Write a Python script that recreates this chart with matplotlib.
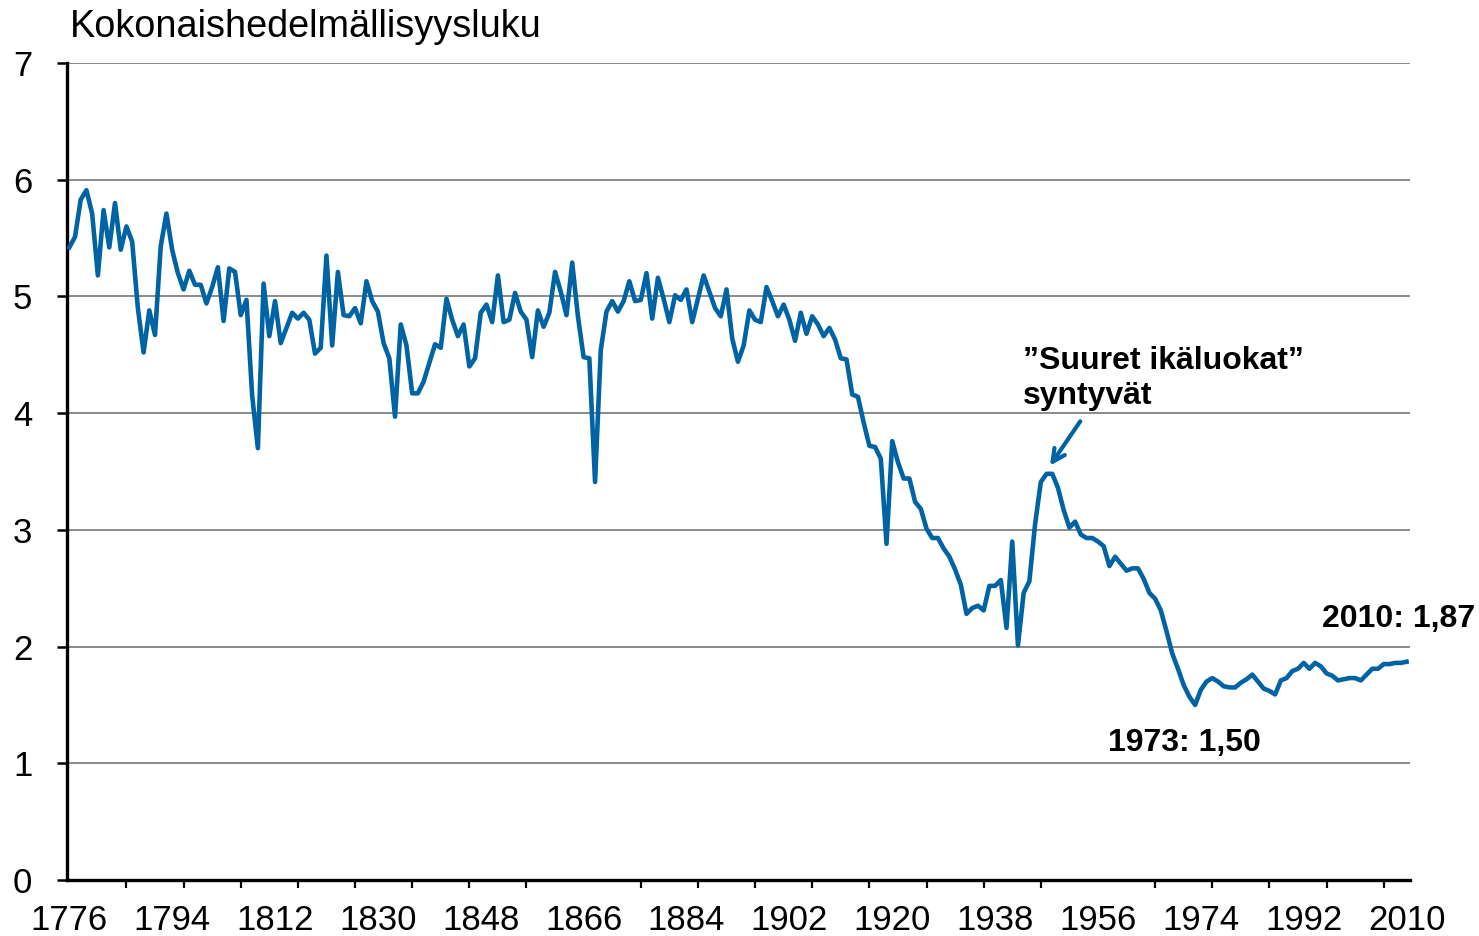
import numpy as np
import matplotlib
matplotlib.use("Agg")
import matplotlib.pyplot as plt
from matplotlib.ticker import FixedLocator

plt.rcParams['font.family'] = ['Liberation Sans', 'DejaVu Sans']

# Total fertility rate, Finland 1776-2010
tfr = [
    5.42, 5.51, 5.83, 5.91, 5.71, 5.18, 5.74, 5.42, 5.80, 5.40,  # 1776-
    5.60, 5.47, 4.90, 4.52, 4.88, 4.67, 5.43, 5.71, 5.40, 5.20,  # 1786-
    5.06, 5.22, 5.10, 5.10, 4.94, 5.08, 5.25, 4.79, 5.24, 5.21,  # 1796-
    4.84, 4.97, 4.15, 3.70, 5.11, 4.66, 4.96, 4.60, 4.73, 4.86,  # 1806-
    4.81, 4.86, 4.80, 4.51, 4.56, 5.35, 4.58, 5.21, 4.84, 4.83,  # 1816-
    4.90, 4.77, 5.13, 4.96, 4.87, 4.60, 4.47, 3.97, 4.76, 4.58,  # 1826-
    4.17, 4.17, 4.27, 4.43, 4.59, 4.56, 4.98, 4.80, 4.66, 4.76,  # 1836-
    4.40, 4.47, 4.86, 4.93, 4.78, 5.18, 4.78, 4.80, 5.03, 4.87,  # 1846-
    4.80, 4.48, 4.88, 4.74, 4.86, 5.21, 5.04, 4.84, 5.29, 4.83,  # 1856-
    4.48, 4.47, 3.41, 4.54, 4.87, 4.96, 4.87, 4.96, 5.13, 4.96,  # 1866-
    4.97, 5.20, 4.81, 5.16, 4.98, 4.78, 5.01, 4.97, 5.06, 4.78,  # 1876-
    4.98, 5.18, 5.04, 4.90, 4.83, 5.06, 4.64, 4.44, 4.58, 4.88,  # 1886-
    4.80, 4.78, 5.08, 4.96, 4.83, 4.93, 4.80, 4.62, 4.86, 4.68,  # 1896-
    4.83, 4.76, 4.66, 4.73, 4.63, 4.47, 4.46, 4.16, 4.14, 3.92,  # 1906-
    3.72, 3.71, 3.61, 2.88, 3.76, 3.58, 3.44, 3.44, 3.24, 3.18,  # 1916-
    3.01, 2.93, 2.93, 2.84, 2.77, 2.66, 2.53, 2.28, 2.33, 2.35,  # 1926-
    2.31, 2.52, 2.52, 2.57, 2.16, 2.90, 2.01, 2.46, 2.56, 3.05,  # 1936-
    3.41, 3.48, 3.48, 3.36, 3.17, 3.02, 3.07, 2.96, 2.93, 2.93,  # 1946-
    2.90, 2.86, 2.69, 2.77, 2.71, 2.65, 2.67, 2.67, 2.58, 2.46,  # 1956-
    2.41, 2.31, 2.13, 1.94, 1.81, 1.67, 1.57, 1.50, 1.63, 1.70,  # 1966-
    1.73, 1.70, 1.66, 1.65, 1.65, 1.69, 1.72, 1.76, 1.70, 1.64,  # 1976-
    1.62, 1.59, 1.71, 1.73, 1.79, 1.81, 1.86, 1.81, 1.86, 1.83,  # 1986-
    1.77, 1.75, 1.71, 1.72, 1.73, 1.73, 1.71, 1.76, 1.81, 1.81,  # 1996-
    1.85, 1.85, 1.86, 1.86, 1.87,                                # 2006-2010
]
start_year = 1776
years = np.arange(start_year, start_year + len(tfr))

label_years = list(range(1776, 2011, 18))
tick_years = list(range(1776, 2011, 10))
y_ticks = list(range(0, 8))

title = "Kokonaishedelmällisyysluku"
ann_boom = ["\u201dSuuret ikäluokat\u201d", "syntyvät"]
ann_min = "1973: 1,50"
ann_last = "2010: 1,87"

line_color = "#0063A3"

W, H = 1479, 936
fig = plt.figure(figsize=(W / 100, H / 100), dpi=100)
ax = fig.add_axes([67 / W, 1 - 880 / H, (1410 - 67) / W, (880 - 63) / H])

ax.plot(years, tfr, color=line_color, lw=3.3, solid_joinstyle='round', zorder=3)

ax.set_xlim(1775.6, 2010.6)
ax.set_ylim(0, 7)

# gridlines
ax.set_yticks(y_ticks)
ax.yaxis.grid(True, color="#8a8a8a", lw=1.4)
ax.set_axisbelow(True)

# x ticks: labels every 18 yrs, tick marks every 10 yrs
ax.xaxis.set_major_locator(FixedLocator(label_years))
ax.set_xticklabels([str(y) for y in label_years])
ax.xaxis.set_minor_locator(FixedLocator(tick_years))
ax.tick_params(axis='x', which='major', length=0, pad=17, labelsize=25)
ax.tick_params(axis='x', which='minor', length=6, width=1.6, direction='out', color='black')
ax.tick_params(axis='y', which='major', length=7, width=1.8, direction='out', pad=18,
               labelsize=25)

for s in ['top', 'right']:
    ax.spines[s].set_visible(False)
for s in ['left', 'bottom']:
    ax.spines[s].set_linewidth(2.4)
    ax.spines[s].set_color('black')

fig.text(70 / W, 1 - 37 / H, title, fontsize=27.3, ha='left', va='baseline')

# annotations
ax.text(1942.9, 4.38, ann_boom[0], fontsize=23, fontweight='bold', ha='left', va='baseline')
ax.text(1942.9, 4.08, ann_boom[1], fontsize=23, fontweight='bold', ha='left', va='baseline')
ax.annotate("", xy=(1947.6, 3.55), xytext=(1952.9, 3.93),
            arrowprops=dict(arrowstyle="->,head_length=0.9,head_width=0.45",
                            color=line_color, lw=3.0, shrinkA=0, shrinkB=0))
ax.text(1957.75, 1.105, ann_min, fontsize=23, fontweight='bold', ha='left', va='baseline')
ax.text(1995.2, 2.17, ann_last, fontsize=23, fontweight='bold', ha='left', va='baseline',
        clip_on=False)

fig.savefig("out.png", dpi=100)
